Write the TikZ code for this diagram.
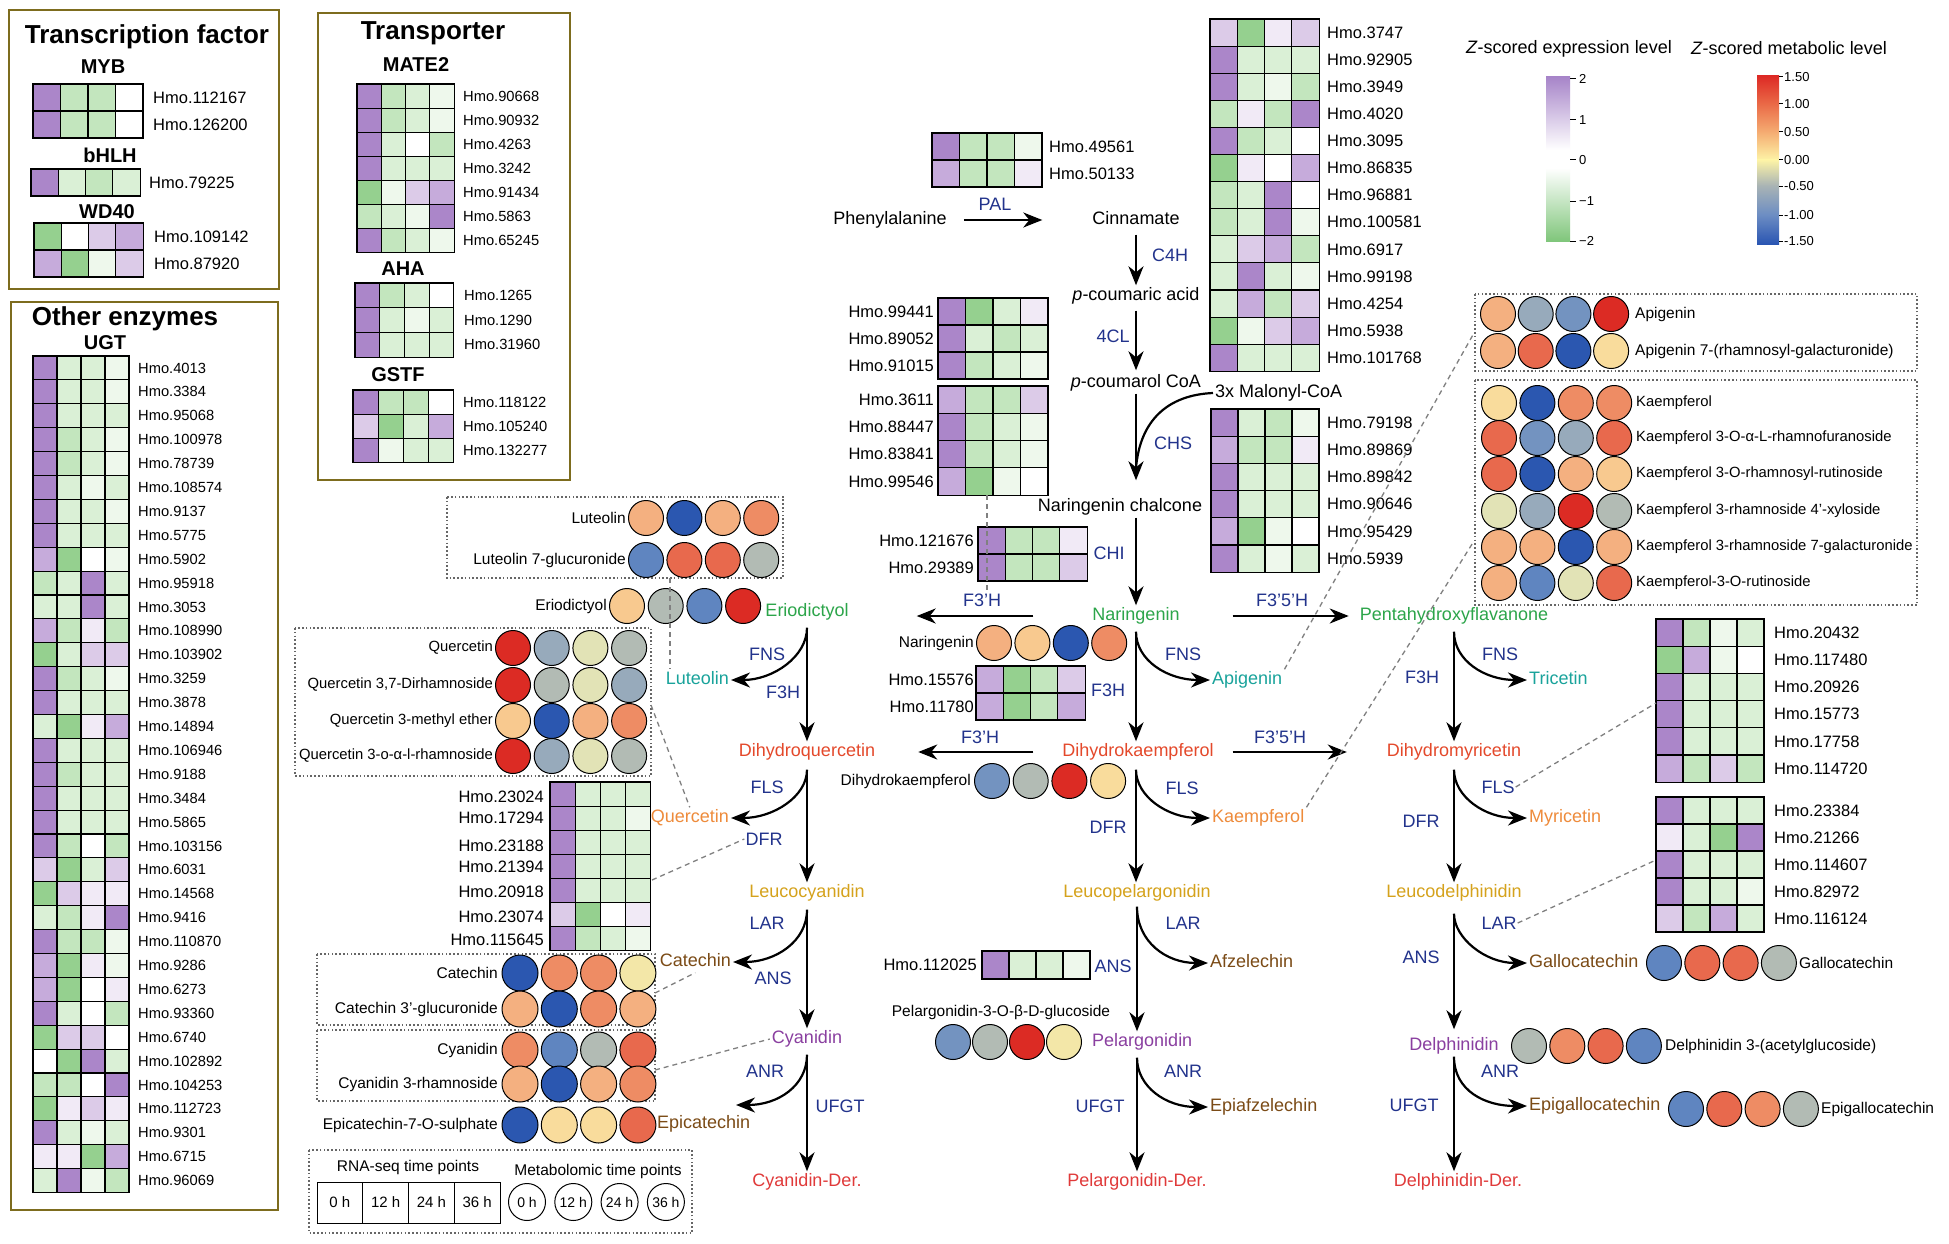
\documentclass[tikz,border=0pt]{standalone}
\usepackage{fontspec}
\setmainfont{Liberation Sans}
\usetikzlibrary{arrows.meta}
\definecolor{p3}{HTML}{AB86C9}
\definecolor{p2}{HTML}{C6ABDB}
\definecolor{p1}{HTML}{DCCBE8}
\definecolor{p0}{HTML}{F1EAF6}
\definecolor{g0}{HTML}{EEF8EC}
\definecolor{g1}{HTML}{DAF0D6}
\definecolor{g2}{HTML}{C3E6BE}
\definecolor{g3}{HTML}{95D08F}
\definecolor{cR}{HTML}{DC2B24}
\definecolor{cO1}{HTML}{E8694D}
\definecolor{cO2}{HTML}{EE8C64}
\definecolor{cO3}{HTML}{F4B080}
\definecolor{cY2}{HTML}{F8C98F}
\definecolor{cY}{HTML}{F9DC9C}
\definecolor{cYp}{HTML}{F3E7A8}
\definecolor{cYG}{HTML}{E2E3B6}
\definecolor{cGR}{HTML}{B2BBB4}
\definecolor{cGB}{HTML}{97AABB}
\definecolor{cB0}{HTML}{7393C0}
\definecolor{cB1}{HTML}{5F85C0}
\definecolor{cB2}{HTML}{2B57B0}
\definecolor{enzblue}{HTML}{22338C}
\definecolor{tgreen}{HTML}{2CA54A}
\definecolor{tteal}{HTML}{19A39B}
\definecolor{tdihy}{HTML}{E4492B}
\definecolor{torange}{HTML}{EE8B3B}
\definecolor{tgold}{HTML}{D5A21C}
\definecolor{tbrown}{HTML}{7B4B16}
\definecolor{tpurple}{HTML}{8A3FA0}
\definecolor{tder}{HTML}{E03A3A}
\definecolor{boxc}{HTML}{7D6C1E}
\definecolor{xP}{HTML}{A785C9}
\definecolor{xG}{HTML}{80C67B}
\definecolor{mR}{HTML}{DD2A25}
\definecolor{mO1}{HTML}{EA6A47}
\definecolor{mO2}{HTML}{F5AC72}
\definecolor{mY}{HTML}{FDF3A6}
\definecolor{mG}{HTML}{A8B3B5}
\definecolor{mB1}{HTML}{6C8DC3}
\definecolor{mB2}{HTML}{2A55B2}
\newcommand\fz[1]{\fontsize{#1}{#1}\selectfont}
\newcommand\hmap[5]{\foreach \hrow [count=\rr from 0] in {#5}{\foreach \cc [count=\jj from 0] in \hrow {\draw[hcell,fill=\cc] ({#1+\jj*#3},{#2+\rr*#4}) rectangle ++(#3,#4);}}}
\newcommand\hlab[7]{\foreach \lbl [count=\rr from 0] in {#7}{\node[#1,anchor=#6] (#2-\rr) at ({#3},{#4+(\rr+0.5)*#5}) {\lbl};}}
\newcommand\crow[6]{\foreach \cc [count=\kk from 0] in {#6}{\node[mc,fill=\cc,minimum size=#5pt] (#1-\kk) at ({#2+\kk*#3},{#4}) {};}}
\tikzset{
 hcell/.style={draw=black, line width=1.1pt},
 hl/.style={font=\fz{16.5}, inner sep=1pt},
 hls/.style={font=\fz{14.7}, inner sep=1pt},
 cmp/.style={font=\fz{18}, inner sep=2pt, text height=13pt, text depth=4pt},
 enz/.style={font=\fz{18}, text=enzblue, inner sep=1pt},
 ttl/.style={font=\bfseries\fz{26}, inner sep=0pt},
 subt/.style={font=\bfseries\fz{20}, inner sep=0pt},
 ml/.style={font=\fz{15.5}, inner sep=1pt},
 mls/.style={font=\fz{14.8}, inner sep=1pt},
 mc/.style={circle, draw=black, line width=1pt, minimum size=35pt, inner sep=0pt},
 arr/.style={line width=2.2pt, -{Stealth[length=19pt,width=15pt,inset=6pt]}},
 tbox/.style={draw=boxc, line width=2.6pt},
 dbox/.style={draw=gray!80!black, line width=1.3pt, dash pattern=on 1.6pt off 2.2pt},
 dline/.style={draw=gray, line width=1.3pt, dash pattern=on 5pt off 4pt},
 lg/.style={font=\fz{18}, inner sep=0pt},
 tickl/.style={font=\fz{13}, inner sep=1pt},
 lt/.style={font=\fz{15.5}, inner sep=0pt},
}
\begin{document}
\begin{tikzpicture}[x=1pt,y=-1pt]
\useasboundingbox (0,0) rectangle (1949,1244);
\fill[white] (0,0) rectangle (1949,1244);

% ---------- Transcription factor
\draw[tbox] (9,10) rectangle (279,289);
\node[ttl] (ttf) at (147,37) {Transcription factor};
\node[subt] (smyb) at (103,67) {MYB};
\hmap{33}{84}{27.5}{27}{{p3,g2,g2,white},{p3,g2,g2,white}}
\hlab{hl}{lmyb}{152}{84}{27}{west}{Hmo.112167,Hmo.126200}
\node[subt] (sbhlh) at (110,155) {bHLH};
\hmap{31}{169}{27.3}{27}{{p3,g1,g2,g1}}
\hlab{hl}{lbhlh}{148}{169}{27}{west}{Hmo.79225}
\node[subt] (swd) at (107,212) {WD40};
\hmap{34}{223}{27.3}{27}{{g3,white,p1,p2},{p2,g3,g0,p1}}
\hlab{hl}{lwd}{153}{223}{27}{west}{Hmo.109142,Hmo.87920}

% ---------- Transporter
\draw[tbox] (318,13) rectangle (570,480);
\node[ttl] (ttr) at (433,33) {Transporter};
\node[subt] (smate) at (416,65) {MATE2};
\hmap{357}{84}{24.3}{24.1}{{p3,g2,g1,g0},{p3,g2,g1,g0},{p3,g1,white,g2},{p3,g1,g1,g1},{g3,g0,p1,p2},{g2,g1,g0,p3},{p3,g2,g1,g0}}
\hlab{hls}{lmate}{462}{84}{24.1}{west}{Hmo.90668,Hmo.90932,Hmo.4263,Hmo.3242,Hmo.91434,Hmo.5863,Hmo.65245}
\node[subt] (saha) at (403,269) {AHA};
\hmap{355}{283}{24.7}{24.7}{{p3,g2,g1,white},{p3,g1,g0,g1},{p3,g1,g1,g1}}
\hlab{hls}{laha}{463}{283}{24.7}{west}{Hmo.1265,Hmo.1290,Hmo.31960}
\node[subt] (sgstf) at (398,375) {GSTF};
\hmap{353}{390}{25.2}{24.3}{{p3,g2,g2,white},{p1,g3,g1,p2},{p3,g0,g1,g1}}
\hlab{hls}{lgstf}{462}{390}{24.3}{west}{Hmo.118122,Hmo.105240,Hmo.132277}

% ---------- Other enzymes
\draw[tbox] (11,302) rectangle (278,1210);
\node[ttl] (toe) at (125,319) {Other enzymes};
\node[subt] (sugt) at (105,343) {UGT};
\hmap{33}{356}{24}{23.9}{{p3,g1,g1,g0},{p3,g1,g1,g0},{p3,g1,g1,g1},{p3,g2,g1,g0},{p3,g2,g1,g0},{p3,g1,g0,g1},{p3,g1,g1,g0},{p3,g1,g1,g1},{p2,g3,white,g0},{g2,g1,p3,g1},{g1,g1,p3,g1},{p2,g2,p0,g2},{g3,g1,p1,p1},{p3,g2,g1,g0},{p3,g1,g1,g1},{g1,g3,p0,p2},{p3,g1,g1,g1},{p3,g2,g1,g1},{p3,g1,g1,g1},{p3,g1,g1,g1},{p3,g2,white,g2},{p1,g3,g1,p1},{g3,p1,p0,p0},{g1,g2,p0,p3},{p3,g2,g2,g0},{p2,g3,p0,g0},{p2,g3,white,p0},{p3,g1,white,g2},{g3,p1,p1,white},{white,g3,p3,g1},{g2,g2,white,p3},{g3,p0,p1,p0},{p3,g1,g0,g1},{p0,p0,g3,p2},{g1,p3,g0,g2}}
\hlab{hls}{lugt}{137}{356}{23.9}{west}{Hmo.4013,Hmo.3384,Hmo.95068,Hmo.100978,Hmo.78739,Hmo.108574,Hmo.9137,Hmo.5775,Hmo.5902,Hmo.95918,Hmo.3053,Hmo.108990,Hmo.103902,Hmo.3259,Hmo.3878,Hmo.14894,Hmo.106946,Hmo.9188,Hmo.3484,Hmo.5865,Hmo.103156,Hmo.6031,Hmo.14568,Hmo.9416,Hmo.110870,Hmo.9286,Hmo.6273,Hmo.93360,Hmo.6740,Hmo.102892,Hmo.104253,Hmo.112723,Hmo.9301,Hmo.6715,Hmo.96069}

% ---------- central heatmaps
\hmap{932}{133}{27.5}{27}{{p3,g2,g2,g0},{p2,g2,g2,p0}}
\hlab{hl}{lpal}{1048}{133}{27}{west}{Hmo.49561,Hmo.50133}
\hmap{938}{298}{27.5}{27}{{p3,g3,g1,p0},{p3,g1,g2,g1},{p3,g2,g1,g0}}
\hlab{hl}{lcla}{935}{298}{27}{east}{Hmo.99441,Hmo.89052,Hmo.91015}
\hmap{938}{386}{27.5}{27.3}{{p2,g2,g2,p1},{p3,g2,g1,g0},{p3,g2,g1,g0},{p2,g3,g0,white}}
\hlab{hl}{lclb}{935}{386}{27.3}{east}{Hmo.3611,Hmo.88447,Hmo.83841,Hmo.99546}
\hmap{978}{527}{27.3}{27}{{p3,g2,g2,p0},{p3,g2,g2,p1}}
\hlab{hl}{lchi}{975}{527}{27}{east}{Hmo.121676,Hmo.29389}
\hmap{976}{666}{27.3}{27}{{p2,g3,g2,p1},{p2,g3,g2,p2}}
\hlab{hl}{lfh}{975}{666}{27}{east}{Hmo.15576,Hmo.11780}
\hmap{982}{951}{27}{28}{{p3,g1,g1,g0}}
\hlab{hl}{lans}{978}{951}{28}{east}{Hmo.112025}
\hmap{1210}{19}{27.3}{27.1}{{p1,g3,p0,p1},{p3,g1,g1,g1},{p3,g1,g0,g2},{g2,p0,g2,p3},{p3,g2,g1,white},{g3,p0,white,p2},{g2,g1,p3,white},{g2,g1,p3,g0},{g1,p1,p2,g2},{g1,p3,g1,g0},{g1,p2,g2,p1},{g3,g0,p1,p2},{p3,g1,g1,g1}}
\hlab{hl}{lctop}{1326}{19}{27.1}{west}{Hmo.3747,Hmo.92905,Hmo.3949,Hmo.4020,Hmo.3095,Hmo.86835,Hmo.96881,Hmo.100581,Hmo.6917,Hmo.99198,Hmo.4254,Hmo.5938,Hmo.101768}
\hmap{1211}{409}{27}{27.2}{{p3,g1,g2,g0},{p2,g2,g2,p0},{p3,g1,g1,g1},{p3,g1,g1,g1},{p2,g3,g0,white},{p3,g1,g0,g1}}
\hlab{hl}{lchs}{1326}{409}{27.2}{west}{Hmo.79198,Hmo.89869,Hmo.89842,Hmo.90646,Hmo.95429,Hmo.5939}
\hmap{550}{782}{25.2}{24.1}{{p3,g1,g1,g1},{p3,g1,g1,g0},{p3,g1,g1,g1},{p3,g1,g1,g1},{p3,g1,g1,g1},{p1,g3,white,p0},{p3,g2,g1,g0}}
\foreach \lbl/\yy [count=\rr] in {Hmo.23024/797,Hmo.17294/818,Hmo.23188/846,Hmo.21394/867,Hmo.20918/892,Hmo.23074/917,Hmo.115645/940}{\node[hl,anchor=east] (ldfr-\rr) at (545,\yy) {\lbl};}
\hmap{1656}{619}{27}{27.2}{{p3,g2,g0,g1},{g3,p2,g0,white},{p3,g1,g1,g1},{p3,g1,g1,g1},{p3,g1,g1,g1},{p2,g2,p1,g2}}
\hlab{hl}{lfls}{1773}{619}{27.2}{west}{Hmo.20432,Hmo.117480,Hmo.20926,Hmo.15773,Hmo.17758,Hmo.114720}
\hmap{1656}{797}{27}{27}{{p3,g1,g1,g1},{p0,g1,g3,p3},{p3,g1,g1,g1},{p3,g1,g1,g0},{p1,g2,p2,g1}}
\hlab{hl}{llar}{1773}{797}{27}{west}{Hmo.23384,Hmo.21266,Hmo.114607,Hmo.82972,Hmo.116124}

% ---------- compounds (top)
\node[cmp] (phe) at (890,220) {Phenylalanine};
\node[cmp] (cin) at (1136,220) {Cinnamate};
\node[cmp] (pca) at (1136,296) {\textit{p}-coumaric acid};
\node[cmp] (pcc) at (1136,383) {\textit{p}-coumarol CoA};
\node[cmp,anchor=west] (mal) at (1213,393) {3x Malonyl-CoA};
\node[cmp] (nch) at (1120,507) {Naringenin chalcone};
\coordinate (chsj) at (1136,468);

% central column
\node[cmp,text=tgreen] (nar) at (1136,616) {Naringenin};
\node[cmp,text=tteal,anchor=west] (api) at (1210,680) {Apigenin};
\node[cmp,text=tdihy] (dhk) at (1138,752) {Dihydrokaempferol};
\node[cmp,text=torange,anchor=west] (kae) at (1210,818) {Kaempferol};
\node[cmp,text=tgold] (lpel) at (1137,893) {Leucopelargonidin};
\node[cmp,text=tbrown,anchor=west] (afz) at (1208,963) {Afzelechin};
\node[cmp,text=tpurple,anchor=west] (pel) at (1090,1042) {Pelargonidin};
\node[cmp,text=tbrown,anchor=west] (epiaf) at (1208,1107) {Epiafzelechin};
\node[cmp,text=tder] (pelder) at (1137,1182) {Pelargonidin-Der.};

% left column
\node[cmp,text=tgreen] (eri) at (807,612) {Eriodictyol};
\node[cmp,text=tteal,anchor=east] (lut) at (731,680) {Luteolin};
\node[cmp,text=tdihy] (dhq) at (807,752) {Dihydroquercetin};
\node[cmp,text=torange,anchor=east] (que) at (731,818) {Quercetin};
\node[cmp,text=tgold] (lcya) at (807,893) {Leucocyanidin};
\node[cmp,text=tbrown,anchor=east] (cat) at (733,962) {Catechin};
\node[cmp,text=tpurple] (cya) at (807,1039) {Cyanidin};
\node[cmp,text=tbrown,anchor=west] (epic) at (655,1124) {Epicatechin};
\node[cmp,text=tder] (cyader) at (807,1182) {Cyanidin-Der.};
\coordinate (anrL) at (736,1105);

% right column
\node[cmp,text=tgreen] (pen) at (1454,616) {Pentahydroxyflavanone};
\node[cmp,text=tteal,anchor=west] (tri) at (1527,680) {Tricetin};
\node[cmp,text=tdihy] (dhm) at (1454,752) {Dihydromyricetin};
\node[cmp,text=torange,anchor=west] (myr) at (1527,818) {Myricetin};
\node[cmp,text=tgold] (ldel) at (1454,893) {Leucodelphinidin};
\node[cmp,text=tbrown,anchor=west] (gal) at (1527,963) {Gallocatechin};
\node[cmp,text=tpurple] (del) at (1454,1046) {Delphinidin};
\node[cmp,text=tbrown,anchor=west] (epig) at (1527,1106) {Epigallocatechin};
\node[cmp,text=tder] (delder) at (1458,1182) {Delphinidin-Der.};

% ---------- enzyme labels
\node[enz] (ePAL) at (995,204) {PAL};
\node[enz] (eC4H) at (1170,255) {C4H};
\node[enz] (e4CL) at (1113,336) {4CL};
\node[enz] (eCHS) at (1173,443) {CHS};
\node[enz] (eCHI) at (1109,553) {CHI};
\node[enz] (eF3Ha) at (982,600) {F3’H};
\node[enz] (eF35a) at (1282,600) {F3’5’H};
\node[enz] (eFNSc) at (1183,654) {FNS};
\node[enz] (eF3Hc) at (1108,690) {F3H};
\node[enz] (eF3Hb) at (980,737) {F3’H};
\node[enz] (eF35b) at (1280,737) {F3’5’H};
\node[enz] (eFLSc) at (1182,788) {FLS};
\node[enz] (eDFRc) at (1108,827) {DFR};
\node[enz] (eLARc) at (1183,923) {LAR};
\node[enz] (eANSc) at (1113,966) {ANS};
\node[enz] (eANRc) at (1183,1071) {ANR};
\node[enz] (eUFc) at (1100,1106) {UFGT};
\node[enz] (eFNSl) at (767,654) {FNS};
\node[enz] (eF3Hl) at (783,692) {F3H};
\node[enz] (eFLSl) at (767,787) {FLS};
\node[enz] (eDFRl) at (764,839) {DFR};
\node[enz] (eLARl) at (767,923) {LAR};
\node[enz] (eANSl) at (773,978) {ANS};
\node[enz] (eANRl) at (765,1071) {ANR};
\node[enz] (eUFl) at (840,1106) {UFGT};
\node[enz] (eFNSr) at (1500,654) {FNS};
\node[enz] (eF3Hr) at (1422,677) {F3H};
\node[enz] (eFLSr) at (1498,787) {FLS};
\node[enz] (eDFRr) at (1421,821) {DFR};
\node[enz] (eLARr) at (1499,923) {LAR};
\node[enz] (eANSr) at (1421,957) {ANS};
\node[enz] (eANRr) at (1500,1071) {ANR};
\node[enz] (eUFr) at (1414,1105) {UFGT};

% ---------- arrows top
\draw[arr, shorten <=15pt, shorten >=48pt] (phe.east) -- (phe.east -| cin.west);
\draw[arr, shorten <=4pt] (cin.south) -- (cin.south |- pca.north);
\draw[arr, shorten <=4pt, shorten >=2pt] (pca.south) -- (pca.south |- pcc.north);
\draw[arr, shorten >=16pt] (pcc.south) -- (pcc.south |- nch.north);
\draw[line width=2.2pt] (mal.west) .. controls (1168,395) and (1140,420) .. (chsj);
\draw[arr] (nch.south -| nar.north) -- (nar.north);
% central
\draw[arr, shorten <=5pt] (nar.south) -- (nar.south |- dhk.north);
\draw[arr, shorten <=5pt] (nar.south) .. controls +(0,34) and +(-42,0) .. (api.west);
\draw[arr, shorten <=57pt, shorten >=66pt] (nar.west) -- (nar.west -| eri.east);
\draw[arr, shorten <=51pt, shorten >=9pt] (nar.east) -- (nar.east -| pen.west);
\draw[arr, shorten <=27pt, shorten >=41pt] (dhk.west) -- (dhk.west -| dhq.east);
\draw[arr, shorten <=17pt, shorten >=38pt] (dhk.east) -- (dhk.east -| dhm.west);
\draw[arr, shorten <=7pt] (nar.south |- dhk.south) -- (nar.south |- lpel.north);
\draw[arr, shorten <=7pt] (nar.south |- dhk.south) .. controls +(0,34) and +(-42,0) .. (kae.west);
\draw[arr, shorten <=3pt] (lpel.south) -- (lpel.south |- pel.north);
\draw[arr, shorten <=3pt] (lpel.south) .. controls +(0,38) and +(-42,0) .. (afz.west);
\draw[arr, shorten <=5pt] (lpel.south |- pel.south) -- (lpel.south |- pelder.north);
\draw[arr, shorten <=5pt] (lpel.south |- pel.south) .. controls +(0,34) and +(-42,0) .. (epiaf.west);
% left
\draw[arr, shorten <=5pt] (eri.south) -- (eri.south |- dhq.north);
\draw[arr, shorten <=5pt] (eri.south) .. controls +(0,34) and +(42,0) .. (lut.east);
\draw[arr, shorten <=7pt] (dhq.south) -- (dhq.south |- lcya.north);
\draw[arr, shorten <=7pt] (dhq.south) .. controls +(0,34) and +(42,0) .. (que.east);
\draw[arr, shorten <=6pt] (lcya.south) -- (lcya.south |- cya.north);
\draw[arr, shorten <=6pt] (lcya.south) .. controls +(0,38) and +(42,0) .. (cat.east);
\draw[arr, shorten <=5pt] (cya.south) -- (cya.south |- cyader.north);
\draw[arr, shorten <=5pt] (cya.south) .. controls +(0,36) and +(42,0) .. (anrL);
% right
\draw[arr, shorten <=5pt] (pen.south) -- (pen.south |- dhm.north);
\draw[arr, shorten <=5pt] (pen.south) .. controls +(0,34) and +(-42,0) .. (tri.west);
\draw[arr, shorten <=7pt] (dhm.south) -- (dhm.south |- ldel.north);
\draw[arr, shorten <=7pt] (dhm.south) .. controls +(0,34) and +(-42,0) .. (myr.west);
\draw[arr, shorten <=10pt, shorten >=6pt] (ldel.south) -- (ldel.south |- del.north);
\draw[arr, shorten <=10pt] (ldel.south) .. controls +(0,34) and +(-42,0) .. (gal.west);
\draw[arr] (del.south) -- (del.south |- delder.north);
\draw[arr] (del.south) .. controls +(0,34) and +(-42,0) .. (epig.west);

% ---------- metabolite circles
\crow{cnar}{994}{38.4}{643}{35}{cO3,cY2,cB2,cO2}
\node[ml,anchor=east] (mnar) at (975,643) {Naringenin};
\crow{cdhk}{992}{38.7}{781}{35}{cB0,cGR,cR,cY}
\node[ml,anchor=east] (mdhk) at (972,781) {Dihydrokaempferol};

\draw[dbox] (447,497) rectangle (783,578);
\crow{clut}{646}{38.4}{518}{35}{cO3,cB2,cO3,cO2}
\crow{clg}{646}{38.4}{560}{35}{cB1,cO1,cO1,cGR}
\node[ml,anchor=east] (mlut) at (627,518) {Luteolin};
\node[ml,anchor=east] (mlg) at (627,560) {Luteolin 7-glucuronide};
\crow{ceri}{627}{38.7}{606}{35}{cY2,cGR,cB1,cR}
\node[ml,anchor=east] (meri) at (608,606) {Eriodictyol};

\draw[dbox] (295,628) rectangle (651,776);
\crow{cqa}{513}{38.7}{648}{35}{cR,cGB,cYG,cGR}
\crow{cqb}{513}{38.7}{685}{35}{cR,cGR,cYG,cGB}
\crow{cqc}{513}{38.7}{721}{35}{cY2,cB2,cO3,cO2}
\crow{cqd}{513}{38.7}{756}{35}{cR,cGB,cYG,cGR}
\node[mls,anchor=east] (mqa) at (494,648) {Quercetin};
\node[mls,anchor=east] (mqb) at (494,685) {Quercetin 3,7-Dirhamnoside};
\node[mls,anchor=east] (mqc) at (494,721) {Quercetin 3-methyl ether};
\node[mls,anchor=east] (mqd) at (494,756) {Quercetin 3-o-α-l-rhamnoside};

\draw[dbox] (317,954) rectangle (655,1025);
\crow{cca}{520}{39.3}{973}{36}{cB2,cO2,cO2,cYp}
\crow{ccb}{520}{39.3}{1009}{36}{cO3,cB2,cO2,cO3}
\node[ml,anchor=east] (mca) at (499,973) {Catechin};
\node[ml,anchor=east] (mcb) at (499,1009) {Catechin 3'-glucuronide};
\draw[dbox] (317,1030) rectangle (655,1101);
\crow{ccc}{520}{39.3}{1050}{36}{cO2,cB1,cGR,cO1}
\crow{ccd}{520}{39.3}{1084}{36}{cO3,cB2,cO3,cO2}
\node[ml,anchor=east] (mcc) at (499,1050) {Cyanidin};
\node[ml,anchor=east] (mcd) at (499,1084) {Cyanidin 3-rhamnoside};
\crow{cce}{520}{39.3}{1125}{36}{cB2,cY,cY,cO1}
\node[ml,anchor=east] (mce) at (499,1125) {Epicatechin-7-O-sulphate};

\crow{cpel}{953}{37}{1042}{35}{cB0,cGR,cR,cYp}
\node[ml] (mpel) at (1001,1012) {Pelargonidin-3-O-β-D-glucoside};

\crow{cgal}{1664}{38.3}{963}{35}{cB1,cO1,cO1,cGR}
\node[ml,anchor=west] (mgal) at (1798,963) {Gallocatechin};
\crow{cdel}{1529}{38.3}{1046}{35}{cGR,cO2,cO1,cB1}
\node[ml,anchor=west] (mdel) at (1664,1046) {Delphinidin 3-(acetylglucoside)};
\crow{cepg}{1686}{38.3}{1109}{35}{cB1,cO1,cO2,cGR}
\node[ml,anchor=west] (mepg) at (1820,1109) {Epigallocatechin};

\draw[dbox] (1475,294) rectangle (1917,371);
\crow{caa}{1498}{37.7}{314}{35}{cO3,cGB,cB0,cR}
\crow{cab}{1498}{37.7}{351}{35}{cO3,cO1,cB2,cY}
\node[ml,anchor=west] (maa) at (1634,314) {Apigenin};
\node[ml,anchor=west] (mab) at (1634,351) {Apigenin 7-(rhamnosyl-galacturonide)};
\draw[dbox] (1475,380) rectangle (1917,605);
\crow{cka}{1499}{38.4}{403}{35}{cY,cB2,cO2,cO2}
\crow{ckb}{1499}{38.4}{438}{35}{cO1,cB0,cGB,cO1}
\crow{ckc}{1499}{38.4}{474}{35}{cO1,cB2,cO3,cY2}
\crow{ckd}{1499}{38.4}{511}{35}{cYG,cGB,cR,cGR}
\crow{cke}{1499}{38.4}{547}{35}{cO3,cO3,cB2,cO3}
\crow{ckf}{1499}{38.4}{583}{35}{cO3,cB1,cYG,cO1}
\node[mls,anchor=west] (mka) at (1635,403) {Kaempferol};
\node[mls,anchor=west] (mkb) at (1635,438) {Kaempferol 3-O-α-L-rhamnofuranoside};
\node[mls,anchor=west] (mkc) at (1635,474) {Kaempferol 3-O-rhamnosyl-rutinoside};
\node[mls,anchor=west] (mkd) at (1635,511) {Kaempferol 3-rhamnoside 4'-xyloside};
\node[mls,anchor=west] (mke) at (1635,547) {Kaempferol 3-rhamnoside 7-galacturonide};
\node[mls,anchor=west] (mkf) at (1635,583) {Kaempferol-3-O-rutinoside};

% ---------- legends
\node[lg] (lgx) at (1569,49) {\textit{Z}-scored expression level};
\node[lg] (lgm) at (1789,48) {\textit{Z}-scored metabolic level};
\shade[top color=xP, bottom color=white] (1546,77) rectangle (1570,150);
\fill[white] (1546,150) rectangle (1570,168);
\shade[top color=white, bottom color=xG] (1546,168) rectangle (1570,241);
\foreach \yy/\tlab [count=\rr] in {79/2,120/1,160/0,201/−1,241/−2}{\draw[line width=1pt] (1570,\yy) -- (1576,\yy); \node[tickl,anchor=west] (tx-\rr) at (1578,\yy) {\tlab};}
\foreach \ya/\yb/\ca/\cb in {76/104/mR/mO1,104/132/mO1/mO2,132/160/mO2/mY,160/186/mY/mG,186/215/mG/mB1,215/244/mB1/mB2}{\shade[top color=\ca, bottom color=\cb] (1757,\ya) rectangle (1779,\yb);}
\foreach \yy/\tlab [count=\rr] in {77/1.50,104/1.00,132/0.50,160/0.00,186/-0.50,215/-1.00,241/-1.50}{\draw[line width=1pt] (1779,\yy) -- (1783,\yy); \node[tickl,anchor=west] (tm-\rr) at (1783,\yy) {\tlab};}

\draw[dbox] (309,1150) rectangle (692,1233);
\node[lt] (rnat) at (408,1167) {RNA-seq time points};
\node[lt] (mett) at (598,1171) {Metabolomic time points};
\foreach \lbl [count=\kk from 0] in {0 h,12 h,24 h,36 h}{\node[draw, line width=1pt, minimum width=45.75pt, minimum height=41pt, inner sep=0pt, font=\fz{15}] (rna-\kk) at ({339.9+\kk*45.75},1202.5) {\lbl};}
\foreach \lbl [count=\kk from 0] in {0 h,12 h,24 h,36 h}{\node[circle, draw, line width=1pt, minimum size=37pt, inner sep=0pt, font=\fz{14}] (met-\kk) at ({527+\kk*46.3},1202) {\lbl};}

% ---------- dashed connectors
\coordinate (dA) at (987,495);
\draw[dline] (dA) -- (dA |- eF3Ha.north);
\coordinate (dB) at (670,578);
\draw[dline] (dB) -- (dB |- lut.north);
\coordinate (dC) at (651,705);
\draw[dline] (dC) -- (que.north);
\coordinate (dD) at (652,880);
\draw[dline] (dD) -- (eDFRl.west);
\coordinate (dE) at (655,993);
\draw[dline] (dE) -- (cat.south);
\coordinate (dF) at (655,1070);
\draw[dline] (dF) -- (cya.west);
\coordinate (dG) at (1474,333);
\draw[dline] (api.north east) -- (dG);
\coordinate (dH) at (1474,541);
\draw[dline] (kae.north east) -- (dH);
\coordinate (dI) at (1656,703);
\draw[dline] (eFLSr.east) -- (dI);
\coordinate (dJ) at (1656,860);
\draw[dline] (eLARr.east) -- (dJ);
\end{tikzpicture}
\end{document}
